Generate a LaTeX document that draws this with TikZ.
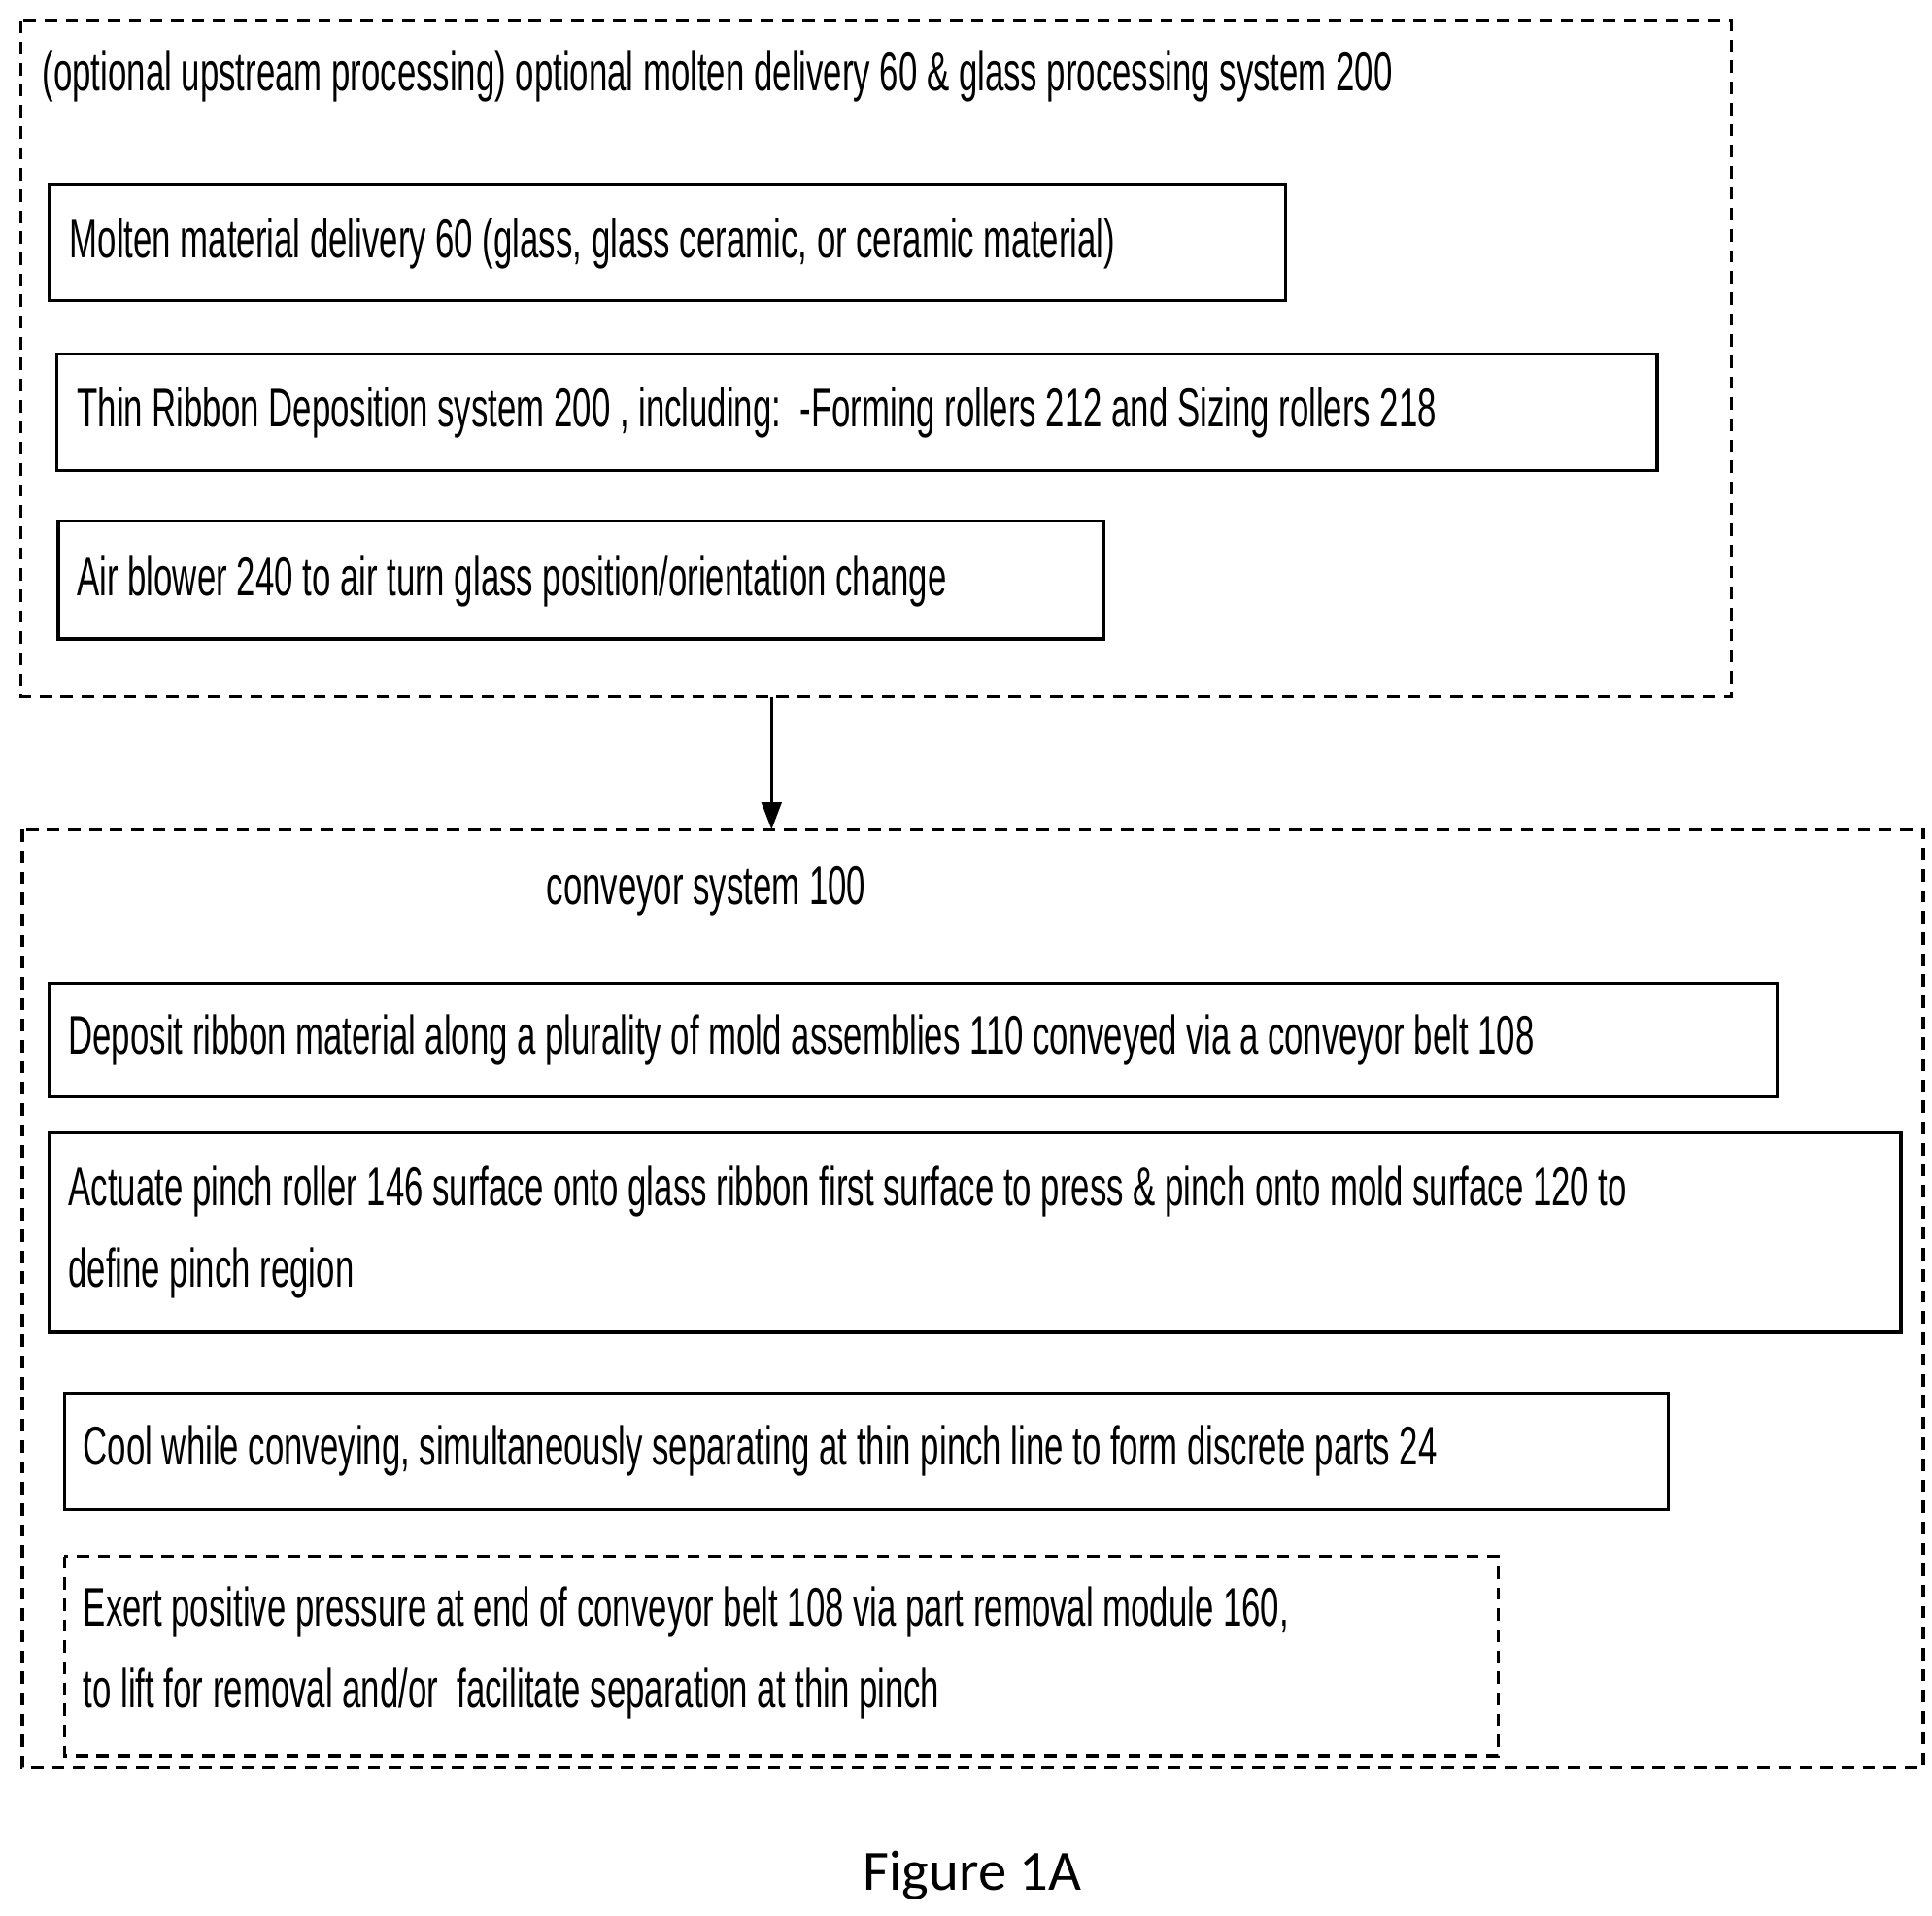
\documentclass[tikz,border=0pt]{standalone}
\usepackage{fontspec}
\setmainfont{Liberation Sans}[FakeStretch=0.62]
\newfontfamily\capfont{Carlito}
\usetikzlibrary{arrows.meta}
\begin{document}
\begin{tikzpicture}[x=1pt,y=-1pt,line width=2.6pt,
  box/.style={draw},
  dbox/.style={draw,dash pattern=on 10pt off 7pt},
  txt/.style={anchor=west,inner sep=0pt,font=\fontsize{44}{66}\selectfont}]
\useasboundingbox (0,0) rectangle (1560,1547);
\draw[dbox] (17,17) rectangle (1398,563);
\node[txt] (t1) at (33,62) {(optional upstream processing) optional molten delivery 60 \& glass processing system 200};
\draw[box] (40,149) rectangle (1038,243);
\node[txt] (a) at (55,197) {Molten material delivery 60 (glass, glass ceramic, or ceramic material)};
\draw[box] (46,286) rectangle (1338,380);
\node[txt] (b) at (61,333) {Thin Ribbon Deposition system 200 , including:\ \ -Forming rollers 212 and Sizing rollers 218};
\draw[box] (47,421) rectangle (891,516);
\node[txt] (c) at (61,470) {Air blower 240 to air turn glass position/orientation change};
\coordinate (s) at (623,563);
\coordinate (e) at (623,670);
\draw[-{Triangle[length=22pt,width=16pt]}] (s) -- (e);
\draw[dbox] (18,670) rectangle (1553,1428);
\node[txt] (t2) at (440,720) {conveyor system 100};
\draw[box] (40,794) rectangle (1435,886);
\node[txt] (d) at (54,840) {Deposit ribbon material along a plurality of mold assemblies 110 conveyed via a conveyor belt 108};
\draw[box] (40,915) rectangle (1535,1076);
\node[txt] (e1) at (54,962) {Actuate pinch roller 146 surface onto glass ribbon first surface to press \& pinch onto mold surface 120 to};
\node[txt] (e2) at (54,1028) {define pinch region};
\draw[box] (52,1125) rectangle (1347,1219);
\node[txt] (f) at (66,1172) {Cool while conveying, simultaneously separating at thin pinch line to form discrete parts 24};
\draw[dbox] (52,1257) rectangle (1210,1418);
\node[txt] (g1) at (66,1302) {Exert positive pressure at end of conveyor belt 108 via part removal module 160,};
\node[txt] (g2) at (66,1368) {to lift for removal and/or\ \ facilitate separation at thin pinch};
\node[inner sep=0pt,font=\capfont\fontsize{46}{50}\selectfont] (fig) at (785,1515) {Figure 1A};
\end{tikzpicture}
\end{document}
